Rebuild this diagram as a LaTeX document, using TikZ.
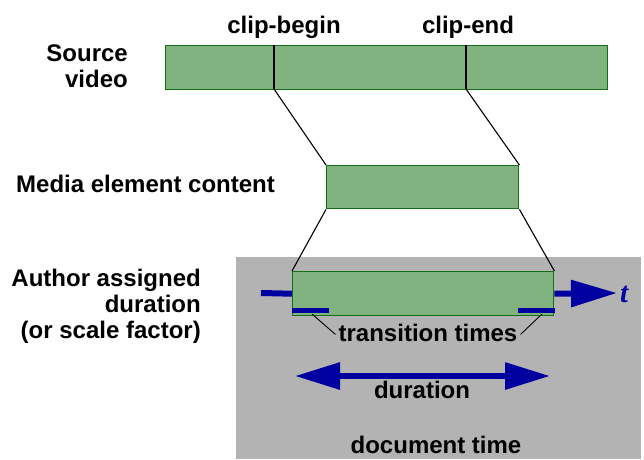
\documentclass[tikz,border=0pt]{standalone}
\usepackage{fontspec}
\setmainfont{Liberation Sans}
\newfontfamily\tfont{Liberation Serif}
\usetikzlibrary{arrows.meta}
\definecolor{barfill}{RGB}{128,179,128}
\definecolor{bardraw}{RGB}{20,110,20}
\definecolor{timeblue}{RGB}{0,0,160}
\definecolor{docgray}{RGB}{179,179,179}
\tikzset{
  bar/.style={draw=bardraw, fill=barfill, line width=1.4pt, inner sep=0pt, anchor=north west},
  lbl/.style={font=\fontsize{24}{26}\selectfont\bfseries, inner sep=0pt},
  link/.style={draw=black, line width=1.1pt},
  leader/.style={draw=black, line width=0.9pt},
  timeline/.style={draw=timeblue, line width=6pt},
  trans/.style={draw=timeblue, line width=5pt}
}
\begin{document}
\begin{tikzpicture}[x=1pt, y=-1pt]
\useasboundingbox (0,0) rectangle (644,459);

% document time area
\fill[docgray] (236,257) rectangle (641,459);

% source video bar with clip points
\node[bar, minimum width=442pt, minimum height=44pt] (src) at (165,45) {};
\coordinate (cbtop) at (274,45);
\coordinate (cbbot) at (274,89);
\coordinate (cetop) at (466,45);
\coordinate (cebot) at (466,89);
\draw[link] (cbtop) -- (cbbot);
\draw[link] (cetop) -- (cebot);

% media element content bar
\node[bar, minimum width=192pt, minimum height=43pt] (media) at (326,165) {};

% author assigned duration bar
\node[bar, minimum width=261pt, minimum height=44pt] (auth) at (292,271) {};

% projections between the bars
\draw[link] (cbbot) -- (media.north west);
\draw[link] (cebot) -- (media.north east);
\draw[link] (media.south west) -- (auth.north west);
\draw[link] (media.south east) -- (auth.north east);

% time axis
\coordinate (tstart) at (261,293);
\coordinate (tend) at (617,293);
\draw[timeline] (tstart) -- (auth.west);
\draw[timeline, -{Triangle[length=46pt, width=26pt]}] (auth.east) -- (tend);
\node[font=\fontsize{29}{29}\selectfont\tfont\bfseries\itshape, text=timeblue, anchor=base west, inner sep=0pt] (tlbl) at (620,302) {t};

% transition times
\coordinate (trAa) at (292,310);
\coordinate (trAb) at (329,310);
\coordinate (trBa) at (518,310);
\coordinate (trBb) at (555,310);
\draw[trans] (trAa) -- (trAb);
\draw[trans] (trBa) -- (trBb);
\node[lbl, anchor=base] (trlbl) at (428,341) {transition times};
\coordinate (ldA) at (312,314);
\coordinate (ldB) at (542,314);
\draw[leader] (ldA) -- ([xshift=-3pt,yshift=-2pt]trlbl.west);
\draw[leader] (ldB) -- ([xshift=3pt,yshift=-2pt]trlbl.east);

% duration
\coordinate (durL) at (295,376);
\coordinate (durR) at (550,376);
\draw[timeline, {Triangle[length=45pt, width=26pt]}-{Triangle[length=45pt, width=26pt]}] (durL) -- (durR);
\node[lbl, anchor=base] (durlbl) at (422,398) {duration};

\node[lbl, anchor=base] (doclbl) at (436,453) {document time};

% labels
\node[lbl, anchor=base] (cblbl) at (284,33) {clip-begin};
\node[lbl, anchor=base] (celbl) at (468,33) {clip-end};
\node[lbl, anchor=base east, align=right] (srclbl) at (128,87) {Source\\video};
\node[lbl, anchor=base west] (medialbl) at (16,192) {Media element content};
\node[lbl, anchor=base east, align=right] (authlbl) at (201,338) {Author assigned\\duration\\(or scale factor)};
\end{tikzpicture}
\end{document}
